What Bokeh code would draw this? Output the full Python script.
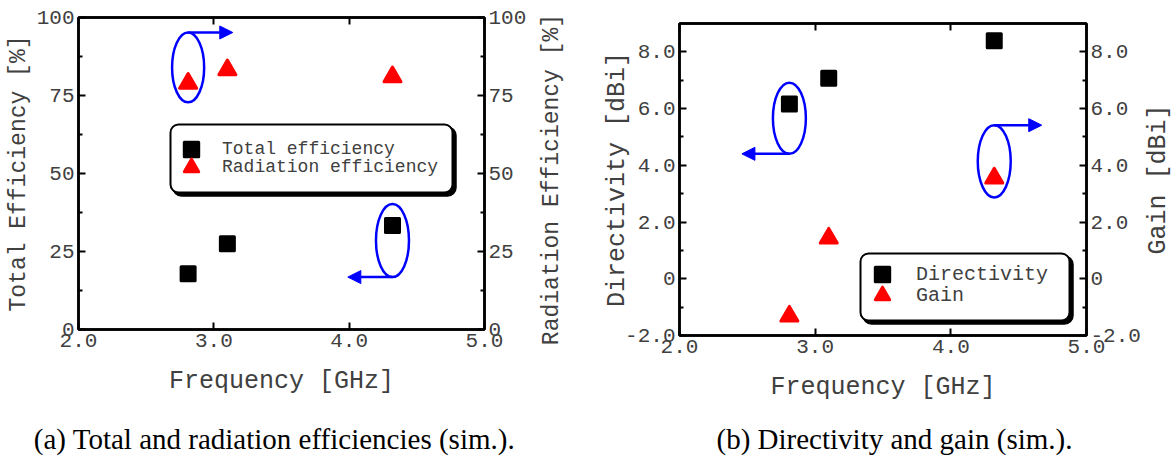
from bokeh.plotting import figure
from bokeh.models import (Range1d, LinearAxis, FixedTicker, Legend, LegendItem,
                          Arrow, NormalHead, Label, BoxAnnotation)
from bokeh.layouts import row, column
from bokeh.embed import file_html
from bokeh.resources import INLINE

# ---------------- data ----------------
freq = [2.81, 3.10, 4.32]
total_eff = [17.9, 27.5, 33.3]
rad_eff = [78.9, 83.2, 81.0]
directivity = [6.16, 7.07, 8.39]
gain = [-1.32, 1.43, 3.55]

x_ticks = [2, 3, 4, 5]
x_tick_labels = ["2.0", "3.0", "4.0", "5.0"]
eff_ticks = [0, 25, 50, 75, 100]
eff_tick_labels = ["0", "25", "50", "75", "100"]
eff_minor = [12.5, 37.5, 62.5, 87.5]
db_ticks = [-2, 0, 2, 4, 6, 8]
db_tick_labels = ["-2.0", "0", "2.0", "4.0", "6.0", "8.0"]
db_minor = [-1, 1, 3, 5, 7]

# callouts: (x, y centre, width, height, arrow end x, side)
eff_callouts = [(2.81, 84.0, 0.237, 22.4, 3.14, "top"),
                (4.32, 28.5, 0.244, 23.4, 3.99, "bottom")]
db_callouts = [(2.81, 5.66, 0.243, 2.51, 2.46, "bottom"),
               (4.32, 4.14, 0.243, 2.55, 4.67, "top")]

captions = ["(a) Total and radiation efficiencies (sim.).",
            "(b) Directivity and gain (sim.)."]

MONO = "Liberation Mono"
TXT = "#404040"
MAIN_H = 404
CAP_H = 60
W1, W2, W3 = 530, 613, 30


def style_axis(ax, ticks, labels, minor, label_size, show_labels=True, std=10):
    ax.ticker = FixedTicker(ticks=ticks, minor_ticks=minor)
    ax.major_label_overrides = {t: l for t, l in zip(ticks, labels)}
    ax.axis_line_color = "black"
    ax.axis_line_width = 2.5
    ax.major_tick_line_color = "black"
    ax.major_tick_line_width = 2
    ax.major_tick_in = 7
    ax.major_tick_out = 0
    ax.minor_tick_line_color = "black"
    ax.minor_tick_line_width = 2
    ax.minor_tick_in = 4
    ax.minor_tick_out = 0
    ax.major_label_standoff = 4
    ax.major_label_text_font = MONO
    ax.major_label_text_color = TXT
    ax.major_label_text_font_size = "21px" if show_labels else "0px"
    ax.axis_label_text_font = MONO
    ax.axis_label_text_font_style = "normal"
    ax.axis_label_text_color = TXT
    ax.axis_label_text_font_size = label_size
    ax.axis_label_standoff = std


def label_only_axis(text, size, std, **kw):
    # an axis that only carries a (bottom-to-top) title
    ax = LinearAxis(axis_label=text, **kw)
    ax.ticker = FixedTicker(ticks=[])
    ax.axis_line_color = None
    ax.major_tick_line_color = None
    ax.minor_tick_line_color = None
    ax.major_tick_in = 0
    ax.major_tick_out = 0
    ax.minor_tick_in = 0
    ax.minor_tick_out = 0
    ax.major_label_standoff = 0
    ax.major_label_text_font_size = "0px"
    ax.axis_label_text_font = MONO
    ax.axis_label_text_font_style = "normal"
    ax.axis_label_text_color = TXT
    ax.axis_label_text_font_size = size
    ax.axis_label_standoff = std
    return ax


def callouts(p, items):
    for (cx, cy, w, h, ex, side) in items:
        p.ellipse(x=[cx], y=[cy], width=[w], height=[h], fill_color=None,
                  line_color="blue", line_width=2.5)
        ay = cy + h / 2 if side == "top" else cy - h / 2
        p.add_layout(Arrow(end=NormalHead(size=13, fill_color="blue", line_color="blue"),
                           x_start=cx, y_start=ay, x_end=ex, y_end=ay,
                           line_color="blue", line_width=2.5))


def base_fig(width, left, right, top, bottom, yr):
    p = figure(width=width, height=MAIN_H, x_range=Range1d(2, 5), y_range=Range1d(*yr),
               output_backend="svg", toolbar_location=None, frame_align=False,
               min_border_left=left, min_border_right=right,
               min_border_top=top, min_border_bottom=bottom)
    p.title.visible = False
    p.xgrid.visible = False
    p.ygrid.visible = False
    p.outline_line_color = "black"
    p.outline_line_width = 2.5
    return p


def legend_box(p, left, right, top, bottom, items, locs, standoff, lw, fsize):
    # shadow + frame (screen units relative to the plot frame)
    p.add_layout(BoxAnnotation(left=left + 3, right=right + 3, top=top - 3, bottom=bottom - 3,
                               left_units="screen", right_units="screen",
                               top_units="screen", bottom_units="screen",
                               fill_color="black", fill_alpha=1, line_color="black",
                               line_alpha=1, line_width=2.5, border_radius=8))
    p.add_layout(BoxAnnotation(left=left, right=right, top=top, bottom=bottom,
                               left_units="screen", right_units="screen",
                               top_units="screen", bottom_units="screen",
                               fill_color="white", fill_alpha=1, line_color="black",
                               line_alpha=1, line_width=2, border_radius=8))
    for it, loc in zip(items, locs):
        lg = Legend(items=[it], location=loc, glyph_width=36, glyph_height=36,
                    label_height=18, spacing=0, padding=0, margin=0,
                    label_standoff=standoff, label_width=lw, label_text_font=MONO,
                    label_text_font_size=fsize, label_text_color=TXT,
                    border_line_alpha=0, background_fill_alpha=0)
        p.add_layout(lg)


def caption_fig(width, text, x):
    c = figure(width=width, height=CAP_H, x_range=Range1d(0, width), y_range=Range1d(0, CAP_H),
               x_axis_type=None, y_axis_type=None, output_backend="svg",
               toolbar_location=None, min_border=0, frame_align=False)
    c.title.visible = False
    c.xgrid.visible = False
    c.ygrid.visible = False
    c.outline_line_color = None
    c.add_layout(Label(x=x, y=26, x_units="screen", y_units="screen", text=text,
                       text_align="center", text_baseline="middle",
                       text_font="Liberation Serif", text_font_size="29px",
                       text_color="black"))
    return c


# ---------------- (a) efficiencies ----------------
p1 = base_fig(W1, 78, W1 - 78 - 406, 17, MAIN_H - 17 - 312, (0, 100))
p1.extra_y_ranges = {"rad": Range1d(0, 100)}
style_axis(p1.xaxis[0], x_ticks, x_tick_labels, [], "25px", std=17)
p1.xaxis[0].axis_label = "Frequency [GHz]"
style_axis(p1.yaxis[0], eff_ticks, eff_tick_labels, eff_minor, "23px", std=2)
p1.yaxis[0].axis_label = "Total Efficiency [%]"
ax_r = LinearAxis(y_range_name="rad")
style_axis(ax_r, eff_ticks, eff_tick_labels, eff_minor, "23px")
p1.add_layout(ax_r, "right")
ax_t = LinearAxis()
style_axis(ax_t, x_ticks, x_tick_labels, [], "25px", show_labels=False)
ax_t.major_label_standoff = 0
p1.add_layout(ax_t, "above")

callouts(p1, eff_callouts)
r_tot = p1.scatter(freq, total_eff, marker="square", size=14, fill_color="black",
                   line_color="black", line_width=3, line_join="round")
r_rad = p1.scatter(freq, rad_eff, marker="triangle", size=17, fill_color="red",
                   line_color="red", line_width=3, line_join="round", y_range_name="rad")
legend_box(p1, 92, 374, 205, 137,
           [LegendItem(label="Total efficiency", renderers=[r_tot]),
            LegendItem(label="Radiation efficiency", renderers=[r_rad])],
           [(95, 162), (95, 144)], 13, 220, "18px")

# ---------------- (b) directivity and gain ----------------
p2 = base_fig(W2, 679 - W1, W2 - (679 - W1) - 408, 23, MAIN_H - 23 - 312, (-2, 9))
p2.extra_y_ranges = {"gain": Range1d(-2, 9)}
style_axis(p2.xaxis[0], x_ticks, x_tick_labels, [], "25px", std=17)
p2.xaxis[0].axis_label = "Frequency [GHz]"
style_axis(p2.yaxis[0], db_ticks, db_tick_labels, db_minor, "25px", std=-10)
p2.yaxis[0].axis_label = "Directivity [dBi]"
# title of the right-hand axis of (a), which lies just left of (b)
p2.add_layout(label_only_axis("Radiation Efficiency [%]", "23px", 36), "left")
ax_r2 = LinearAxis(y_range_name="gain")
style_axis(ax_r2, db_ticks, db_tick_labels, db_minor, "25px")
p2.add_layout(ax_r2, "right")
ax_t2 = LinearAxis()
style_axis(ax_t2, x_ticks, x_tick_labels, [], "25px", show_labels=False)
ax_t2.major_label_standoff = 0
p2.add_layout(ax_t2, "above")

callouts(p2, db_callouts)
r_dir = p2.scatter(freq, directivity, marker="square", size=14, fill_color="black",
                   line_color="black", line_width=3, line_join="round")
r_gain = p2.scatter(freq, gain, marker="triangle", size=17, fill_color="red",
                    line_color="red", line_width=3, line_join="round", y_range_name="gain")
legend_box(p2, 181, 390, 82, 15,
           [LegendItem(label="Directivity", renderers=[r_dir]),
            LegendItem(label="Gain", renderers=[r_gain])],
           [(185, 43), (185, 22)], 16, 140, "20px")

# thin strip holding the title of the right-hand axis of (b)
g = figure(width=W3, height=MAIN_H, x_range=Range1d(0, 1), y_range=Range1d(-2, 9),
           x_axis_type=None, y_axis_type=None, output_backend="svg",
           toolbar_location=None, frame_align=False, min_border_left=W3 - 1,
           min_border_right=0, min_border_top=23, min_border_bottom=MAIN_H - 23 - 312)
g.title.visible = False
g.outline_line_color = None
g.xgrid.visible = False
g.ygrid.visible = False
g.add_layout(label_only_axis("Gain [dBi]", "25px", 1), "left")

c1 = caption_fig(W1, captions[0], 274)
c2 = caption_fig(W2 + W3, captions[1], 894 - W1)

layout = column(row(p1, p2, g), row(c1, c2))
open("out.html", "w").write(file_html(layout, INLINE))
